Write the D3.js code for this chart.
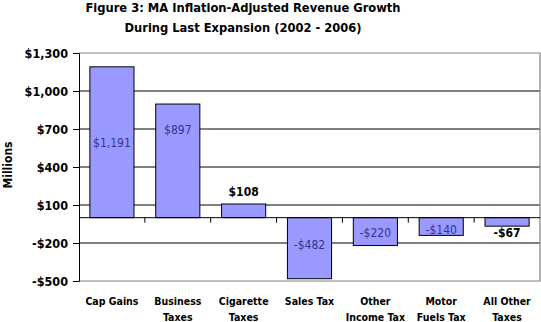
<!DOCTYPE html>
<html>
<head>
<meta charset="utf-8">
<script src="https://cdn.jsdelivr.net/npm/d3@7"></script>
<style>
  body { margin: 0; background: #fff; }
  svg { display: block; }
  text { font-family: "DejaVu Sans Condensed", "DejaVu Sans", sans-serif; }
</style>
</head>
<body>
<script>
// data
const categories = [["Cap Gains"], ["Business", "Taxes"], ["Cigarette", "Taxes"], ["Sales Tax"],
  ["Other", "Income Tax"], ["Motor", "Fuels Tax"], ["All Other", "Taxes"]];
const values = [1191, 897, 108, -482, -220, -140, -67];
const labels = ["$1,191", "$897", "$108", "-$482", "-$220", "-$140", "-$67"];
// where each value label sits, in millions
const labelAt = [595, 690, 203, -218, -123, -92, -123];
const outside = [false, false, true, false, false, false, true];
const yTicks = [-500, -200, 100, 400, 700, 1000, 1300];

const w = 541, h = 322;
const m = { left: 79, right: 540, top: 53, bottom: 281 };

const svg = d3.select("body").append("svg").attr("width", w).attr("height", h);

const x = d3.scaleBand().domain(d3.range(categories.length))
  .range([m.left, m.right]).paddingInner(0.33).paddingOuter(0.165);
const y = d3.scaleLinear().domain([-500, 1300]).range([m.bottom, m.top]);

// title
svg.append("text").attr("x", 243).attr("y", 12).attr("text-anchor", "middle")
  .attr("font-weight", "bold").attr("font-size", 12.8)
  .text("Figure 3: MA Inflation-Adjusted Revenue Growth");
svg.append("text").attr("x", 243).attr("y", 32).attr("text-anchor", "middle")
  .attr("font-weight", "bold").attr("font-size", 12.8)
  .text("During Last Expansion (2002 - 2006)");

// grid lines
svg.append("g").selectAll("line")
  .data(yTicks.filter(d => d > -500 && d < 1300))
  .enter().append("line")
  .attr("x1", m.left).attr("x2", m.right)
  .attr("y1", d => y(d)).attr("y2", d => y(d))
  .attr("stroke", "#000").attr("stroke-width", 1);

// plot border
svg.append("path")
  .attr("d", `M${m.left},${m.top}H${m.right}V${m.bottom}H${m.left}`)
  .attr("fill", "none").attr("stroke", "#808080").attr("stroke-width", 1.2);

// bars
svg.append("g").selectAll("rect")
  .data(values).enter().append("rect")
  .attr("x", (d, i) => x(i))
  .attr("width", x.bandwidth())
  .attr("y", d => y(Math.max(0, d)))
  .attr("height", d => Math.abs(y(d) - y(0)))
  .attr("fill", "#9999ff").attr("stroke", "#000").attr("stroke-width", 1);

// zero line and category ticks
svg.append("line").attr("x1", m.left).attr("x2", m.right)
  .attr("y1", y(0)).attr("y2", y(0)).attr("stroke", "#000");
svg.append("g").selectAll("line")
  .data(d3.range(1, categories.length)).enter().append("line")
  .attr("x1", i => x(i) - x.step() * x.paddingInner() / 2)
  .attr("x2", i => x(i) - x.step() * x.paddingInner() / 2)
  .attr("y1", y(0)).attr("y2", y(0) + 5).attr("stroke", "#000");

// y axis
const yAxis = d3.axisLeft(y).tickValues(yTicks).tickSize(6).tickPadding(5)
  .tickFormat(d => (d < 0 ? "-$" : "$") + d3.format(",")(Math.abs(d)));
const ga = svg.append("g").attr("transform", `translate(${m.left},0)`).call(yAxis);
ga.select(".domain").attr("stroke", "#000");
ga.selectAll(".tick line").attr("stroke", "#000");
ga.selectAll(".tick text").attr("font-size", 12.5).attr("font-weight", "bold")
  .attr("fill", "#000").attr("font-family", "'DejaVu Sans Condensed', sans-serif");

svg.append("text").attr("transform", `translate(12,165) rotate(-90)`)
  .attr("text-anchor", "middle").attr("font-weight", "bold").attr("font-size", 12)
  .text("Millions");

// value labels
svg.append("g").selectAll("text")
  .data(values).enter().append("text")
  .attr("x", (d, i) => x(i) + x.bandwidth() / 2)
  .attr("y", (d, i) => y(labelAt[i]))
  .attr("dy", "0.35em").attr("text-anchor", "middle")
  .attr("font-size", 12)
  .attr("font-weight", (d, i) => outside[i] ? "bold" : "normal")
  .attr("fill", (d, i) => outside[i] ? "#000" : "#333399")
  .text((d, i) => labels[i]);

// category labels
const cat = svg.append("g").selectAll("text")
  .data(categories).enter().append("text")
  .attr("text-anchor", "middle")
  .attr("font-size", 10.5).attr("font-weight", "bold")
  .attr("transform", (d, i) => `translate(${x(i) + x.bandwidth() / 2},305)`);
cat.selectAll("tspan").data(d => d).enter().append("tspan")
  .attr("x", 0).attr("dy", (d, j) => j === 0 ? 0 : 15.5)
  .text(d => d);
</script>
</body>
</html>
